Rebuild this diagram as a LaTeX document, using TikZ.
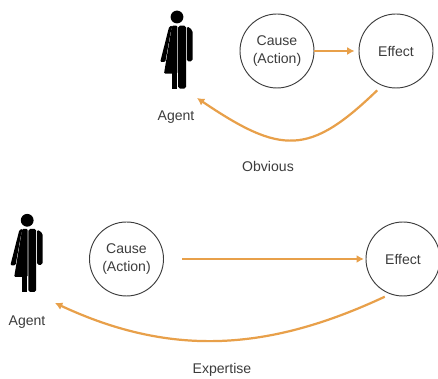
\documentclass[tikz,border=0pt]{standalone}
\usepackage{fontspec}
\setmainfont{Liberation Sans}
\usetikzlibrary{positioning}
\usetikzlibrary{arrows.meta}

\definecolor{arrowc}{RGB}{232,160,74}
\definecolor{textc}{RGB}{60,60,60}

\tikzset{
 event/.style={circle,draw=textc,line width=0.8pt,minimum size=2.22cm,inner sep=0pt,
  align=center,text=textc,font=\fontsize{12}{15}\selectfont},
 word/.style={text=textc,font=\fontsize{12}{15}\selectfont,inner sep=1pt},
 link/.style={draw=arrowc,line width=1.9pt,-{Latex[length=2.2mm,width=2.4mm]}},
 person/.pic={
  \fill (0,0) circle (0.64);
  \fill[rounded corners=1pt](0.04,-0.86)--(-0.5,-0.86)--(-1.3,-5.67)--(0.04,-5.67)--cycle;
  \fill[rounded corners=1pt](-0.45,-0.86)--(-0.78,-0.95)--(-1.68,-4.5)--(-1.17,-4.5)--(-0.62,-1.45)--cycle;
  \fill(-0.55,-5.6) rectangle (-0.05,-7.17);
  \fill[rounded corners=1.5pt](0.12,-0.86)--(0.9,-0.86)--(0.9,-7.17)--(0.12,-7.17)--cycle;
  \fill[rounded corners=1.5pt](0.98,-0.9)--(1.55,-1.3)--(1.55,-4.45)--(0.98,-4.45)--cycle;
 }
}

\begin{document}
\begin{tikzpicture}[scale=0.3]
 \useasboundingbox (0,0) rectangle (43.8,37.9);
 \pic[transform shape] at (17.7,36.2) {person};
 \node[word] (agent1) at (17.6,26.2) {Agent};
 \node[event] (cause1) at (27.7,32.8) {Cause\\(Action)};
 \node[event] (effect1) at (39.6,32.8) {Effect};
 \node[word] (obvious) at (26.8,21.3) {Obvious};
 \coordinate (in1) at (19.7,28.1);
 \draw[link,shorten >=0.12cm] (cause1.east) -- (effect1.west);
 \draw[link,shorten <=0.2cm] (effect1.248) to[out=224,in=-34,looseness=1.4] (in1);

 \pic[transform shape] at (2.72,15.87) {person};
 \node[word] (agent2) at (2.7,5.7) {Agent};
 \node[event] (cause2) at (12.65,12) {Cause\\(Action)};
 \node[event] (effect2) at (40.3,12) {Effect};
 \node[word] (expertise) at (22.2,0.9) {Expertise};
 \coordinate (in2) at (5.5,7.6);
 \draw[link,shorten <=0.55cm,shorten >=0.05cm] (cause2.east) -- (effect2.west);
 \draw[link,shorten <=0.18cm] (effect2.250) to[out=205,in=-25] (in2);
\end{tikzpicture}
\end{document}
